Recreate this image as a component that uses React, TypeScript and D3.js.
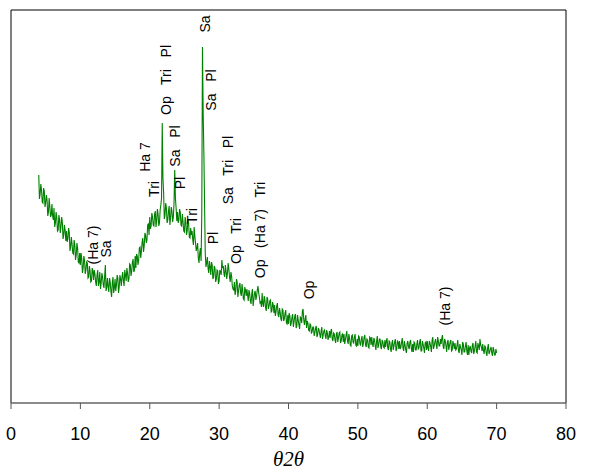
import React from "react";
import * as d3 from "d3";

// 2θ sampling grid: main readings at 4.0, 4.2, ... 70.0; in-between readings at 4.1, 4.3, ... 69.9
const START_2THETA = 4;
const STEP_2THETA = 0.2;

// Intensity (arbitrary units) at 4.0, 4.2, ... 70.0
const intensity: number[] = [
  228, 209, 213, 200, 212, 200, 203, 191, 196, 188, // 4
  187, 195, 180, 185, 173, 184, 176, 181, 168, 173, // 6
  172, 164, 171, 156, 159, 149, 158, 148, 155, 140, // 8
  138, 144, 135, 143, 133, 140, 126, 132, 122, 132, // 10
  133, 121, 128, 117, 131, 120, 126, 115, 138, 116, // 12
  116, 125, 112, 120, 110, 124, 118, 125, 116, 124, // 14
  126, 122, 133, 122, 130, 124, 138, 132, 144, 133, // 16
  135, 147, 143, 156, 152, 165, 157, 168, 163, 179, // 18
  186, 177, 186, 177, 192, 182, 189, 180, 198, 280, // 20
  210, 188, 195, 183, 197, 185, 192, 186, 233, 195, // 22
  191, 183, 191, 177, 181, 171, 181, 172, 180, 165, // 24
  168, 163, 176, 160, 155, 145, 150, 142, 356, 250, // 26
  150, 140, 135, 142, 128, 138, 126, 135, 124, 132, // 28
  122, 131, 143, 137, 126, 132, 130, 134, 121, 127, // 30
  114, 121, 112, 121, 112, 120, 107, 113, 103, 113, // 32
  114, 102, 110, 99, 114, 103, 112, 107, 117, 106, // 34
  101, 110, 96, 103, 92, 104, 97, 103, 92, 98, // 36
  98, 91, 100, 86, 91, 82, 93, 84, 93, 79, // 38
  79, 87, 80, 89, 81, 89, 77, 83, 74, 85, // 40
  92, 83, 84, 75, 80, 72, 78, 71, 76, 70, // 42
  77, 68, 73, 65, 76, 68, 73, 64, 70, 66, // 44
  65, 74, 62, 69, 60, 71, 65, 71, 62, 69, // 46
  69, 63, 72, 59, 65, 57, 68, 60, 69, 57, // 48
  57, 66, 58, 67, 60, 68, 56, 63, 55, 65, // 50
  66, 56, 63, 53, 67, 58, 64, 54, 61, 55, // 52
  56, 65, 53, 61, 51, 63, 57, 64, 54, 61, // 54
  62, 56, 65, 52, 58, 50, 62, 54, 63, 51, // 56
  51, 60, 53, 63, 55, 64, 52, 59, 50, 61, // 58
  62, 52, 60, 51, 66, 57, 64, 54, 62, 57, // 60
  59, 68, 54, 62, 51, 63, 57, 63, 53, 59, // 62
  60, 54, 63, 50, 56, 48, 59, 51, 61, 48, // 64
  48, 57, 50, 60, 52, 62, 50, 57, 64, 56, // 66
  59, 49, 56, 47, 59, 51, 56, 47, 53, 48, // 68
  50, // 70
];

// Intensity at 4.1, 4.3, ... 69.9
const intensityMid: number[] = [
  204, 219, 201, 215, 196, 208, 187, 205, 186, 199, // 4.1
  183, 176, 191, 172, 188, 170, 186, 164, 178, 162, // 6.1
  161, 175, 152, 166, 150, 163, 143, 160, 141, 150, // 8.1
  150, 130, 147, 129, 141, 125, 137, 121, 135, 123, // 10.1
  129, 117, 133, 121, 114, 130, 118, 127, 112, 125, // 12.1
  111, 121, 106, 126, 115, 112, 128, 110, 128, 117, // 14.1
  131, 117, 128, 135, 121, 139, 127, 141, 131, 147, // 16.1
  149, 138, 155, 145, 161, 151, 170, 160, 178, 168, // 18.1
  174, 190, 178, 189, 176, 194, 177, 193, 205, 225, // 20.1
  184, 200, 180, 192, 178, 196, 181, 200, 205, 182, // 22.1
  180, 194, 178, 189, 172, 186, 168, 184, 166, 175, // 24.1
  172, 158, 167, 152, 160, 140, 155, 190, 290, 200, // 26.1
  136, 146, 130, 136, 141, 124, 137, 121, 133, 119, // 28.1
  133, 128, 135, 129, 138, 124, 140, 126, 131, 117, // 30.1
  113, 108, 124, 106, 118, 110, 119, 104, 116, 107, // 32.1
  108, 113, 102, 109, 97, 110, 103, 113, 110, 100, // 34.1
  96, 99, 107, 95, 106, 94, 102, 91, 101, 90, // 36.1
  87, 97, 88, 95, 84, 94, 82, 90, 80, 88, // 38.1
  90, 77, 86, 76, 87, 75, 88, 78, 86, 80, // 40.1
  94, 78, 88, 82, 73, 79, 70, 76, 67, 75, // 42.1
  66, 75, 69, 72, 64, 72, 67, 73, 63, 72, // 44.1
  72, 64, 70, 63, 69, 61, 70, 60, 68, 61, // 46.1
  59, 68, 62, 69, 58, 67, 61, 66, 58, 64, // 48.1
  67, 59, 64, 56, 66, 58, 64, 56, 66, 58, // 50.1
  59, 65, 57, 62, 55, 64, 56, 63, 56, 63, // 52.1
  62, 55, 62, 54, 60, 53, 61, 52, 62, 54, // 54.1
  54, 61, 55, 62, 53, 60, 56, 61, 55, 59, // 56.1
  61, 53, 59, 54, 61, 52, 62, 55, 60, 53, // 58.1
  55, 62, 56, 63, 54, 61, 58, 66, 57, 64, // 60.1
  65, 56, 64, 57, 61, 53, 61, 52, 62, 54, // 62.1
  53, 58, 52, 59, 53, 61, 51, 57, 52, 58, // 64.1
  55, 52, 58, 49, 57, 51, 60, 53, 58, 52, // 66.1
  52, 57, 50, 55, 49, 54, 50, 56, 48, 54, // 68.1
];

const xTicks: number[] = [0, 10, 20, 30, 40, 50, 60, 70, 80];

// Phase annotations: text, 2θ position, intensity position (label centre)
const labelTexts: string[] = [
  "(Ha 7)", "Sa", "Ha 7", "Tri", "Op   Tri   Pl", "Sa", "Sa   Pl", "Sa   Pl",
  "Pl", "Tri", "Pl", "Sa   Tri   Pl", "Op   Tri", "Op   (Ha 7)   Tri", "Op", "(Ha 7)",
];
const label2Theta: number[] = [
  11.8, 13.7, 19.3, 20.6, 22.35, 27.95, 28.85, 23.65,
  24.35, 26.1, 29.1, 31.3, 32.45, 35.9, 42.95, 62.55,
];
const labelIntensity: number[] = [
  158, 154, 246, 214, 323, 379, 313, 257,
  220, 187, 165, 233, 162, 173, 113, 97,
];

const W = 598;
const H = 475;
const M = { left: 11, right: 32, top: 10, bottom: 72 };

export default function App() {
  const x = d3.scaleLinear().domain([0, 80]).range([M.left, W - M.right]);
  const y = d3.scaleLinear().domain([0, 393]).range([H - M.bottom, M.top]);

  const pts: [number, number][] = [];
  intensity.forEach((v, i) => {
    pts.push([START_2THETA + i * STEP_2THETA, v]);
    if (i < intensityMid.length) {
      pts.push([START_2THETA + i * STEP_2THETA + STEP_2THETA / 2, intensityMid[i]]);
    }
  });
  const line = d3
    .line<[number, number]>()
    .x((d) => x(d[0]))
    .y((d) => y(d[1]));

  const x0 = x(0);
  const x1 = x(80);
  const yTop = y(393);
  const yBot = y(0);

  return (
    <svg
      width={W}
      height={H}
      style={{ position: "absolute", left: 0, top: 0, background: "#fff" }}
      fontFamily="'Liberation Sans', Arial, sans-serif"
    >
      {/* frame */}
      <line x1={x0} y1={yTop} x2={x1} y2={yTop} stroke="#000" strokeWidth={1} />
      <line x1={x0} y1={yTop} x2={x0} y2={yBot} stroke="#000" strokeWidth={1} />
      <line x1={x1} y1={yTop} x2={x1} y2={yBot} stroke="#000" strokeWidth={1} />
      {/* x axis */}
      <line x1={x0} y1={yBot} x2={x1} y2={yBot} stroke="#666" strokeWidth={1.5} />
      {xTicks.map((t) => (
        <g key={t}>
          <line x1={x(t)} y1={yBot} x2={x(t)} y2={yBot + 6} stroke="#555" strokeWidth={1} />
          <text x={x(t)} y={yBot + 37} textAnchor="middle" fontSize={18} fill="#000">
            {t}
          </text>
        </g>
      ))}
      <text
        x={(x0 + x1) / 2}
        y={466}
        textAnchor="middle"
        fontSize={21}
        fontStyle="italic"
        fontFamily="'Liberation Serif', 'Times New Roman', serif"
        fill="#000"
      >
        θ2θ
      </text>

      {/* pattern */}
      <path d={line(pts) || ""} fill="none" stroke="#008000" strokeWidth={1.1} strokeLinejoin="miter" />

      {/* annotations */}
      {labelTexts.map((t, i) => (
        <text
          key={i}
          transform={`translate(${x(label2Theta[i])},${y(labelIntensity[i])}) rotate(-90)`}
          textAnchor="middle"
          dy="0.35em"
          fontSize={14}
          fill="#000"
          style={{ whiteSpace: "pre" }}
        >
          {t}
        </text>
      ))}
    </svg>
  );
}
